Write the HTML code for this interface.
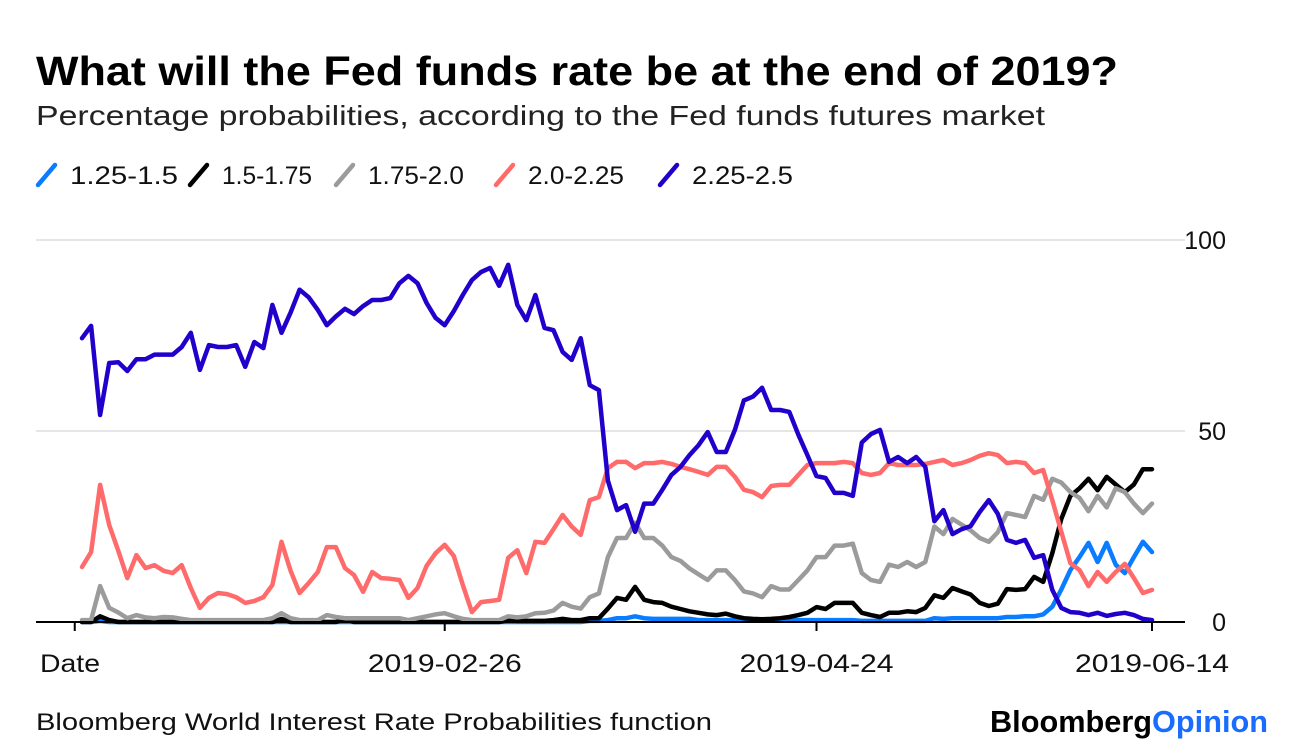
<!DOCTYPE html>
<html><head><meta charset="utf-8">
<style>
body{margin:0;background:#fff;width:1296px;height:754px;overflow:hidden;font-family:"Liberation Sans",sans-serif;}
svg{position:absolute;left:0;top:0}
</style></head>
<body>
<svg id="chart" width="1296" height="754" xmlns="http://www.w3.org/2000/svg">
<text x="36" y="85" font-size="41" font-weight="bold" fill="#000" textLength="1082" lengthAdjust="spacingAndGlyphs">What will the Fed funds rate be at the end of 2019?</text>
<text x="36" y="125" font-size="28" fill="#222" textLength="1009" lengthAdjust="spacingAndGlyphs">Percentage probabilities, according to the Fed funds futures market</text>
<g id="legend"></g>
<g id="grid"></g>
<g id="series"></g>
<g id="xaxis"></g>
<text x="36" y="730" font-size="24" fill="#111" textLength="676" lengthAdjust="spacingAndGlyphs">Bloomberg World Interest Rate Probabilities function</text>
<text x="990" y="732" font-size="31" font-weight="bold" textLength="278" lengthAdjust="spacingAndGlyphs"><tspan fill="#000">Bloomberg</tspan><tspan fill="#1a6cff">Opinion</tspan></text>
</svg>
<script>
const seriesNames = ["1.25-1.5","1.5-1.75","1.75-2.0","2.0-2.25","2.25-2.5"];
const seriesColors = ["#0a7cff","#000000","#9b9b9b","#ff6b6b","#2200cc"];
const yTicks = [0,50,100];
const xTickLabels = ["Date","2019-02-26","2019-04-24","2019-06-14"];
const xTickIndex = [-0.8,40,81,118];
const s1 = [0,0,0.3,0,0,0,0,0,0,0,0,0,0,0,0,0,0,0,0,0,0,0,0,0,0,0,0,0,0,0,0,0,0,0,0,0,0,0,0,0,0,0,0,0,0,0,0,0,0,0,0,0,0,0,0,0,0.3,0.3,0.5,1,1,1.5,1,0.8,0.8,0.8,0.8,0.8,0.5,0.5,0.5,0.5,0.5,0.5,0.5,0.5,0.5,0.5,0.5,0.5,0.5,0.5,0.5,0.5,0.5,0.5,0.3,0.3,0.3,0.3,0.3,0.3,0.3,0.3,1,0.8,1,1,1,1,1,1,1.3,1.3,1.5,1.5,2,4,8.5,13.6,17,20.7,15.7,20.7,15,12.8,17,21,18.3];
const s2 = [0,0,1.5,0.5,0,0,0,0,0,0,0,0,0,0,0,0,0,0,0,0,0,0,0.8,0,0,0,0,0,0,0.8,0,0,0,0,0,0,0,0,0,0,0,0,0,0,0,0,0,0.5,0.3,0.3,0.3,0.3,0.5,0.8,0.5,0.5,1,1,3.5,6.3,5.8,9.2,5.8,5.2,5,4,3.4,2.8,2.4,2,1.8,2.2,1.5,1,0.8,0.7,0.8,1,1.3,1.8,2.4,3.9,3.4,5,5,5,2.4,1.8,1.3,2.4,2.4,2.8,2.6,3.7,7,6.3,8.9,8,7.2,5,4.2,4.8,8.6,8.4,8.6,11.8,10.5,18,27,33,35,37.5,34.5,38,36,34,36,40,40];
const s3 = [0.5,0.5,9.4,3.7,2.5,1,1.8,1.2,1,1.3,1.2,0.8,0.5,0.5,0.5,0.5,0.5,0.5,0.5,0.5,0.5,1,2.3,1,0.5,0.5,0.5,1.8,1.3,1,1,1,1,1,1,1,0.5,1,1.5,2,2.3,1.5,0.8,0.5,0.5,0.5,0.5,1.5,1.2,1.5,2.3,2.4,3,5,4,3.5,6.5,7.5,17,22,22,26,22,22,20,17,16,14,12.5,11,13.5,13.5,11,8,7.5,6.5,9.4,8.5,8.5,11,13.5,17,17,20,20,20.5,12.8,11,10.5,15,14.4,15.7,14.4,15.7,25,23,27,25.5,24,22,21,23.5,28.5,28,27.5,33,32,37.5,36.5,34,32.5,29,33,30,35,34,31,28.5,31];
const s4 = [14.4,18.3,35.9,25.4,18.6,11.5,17.5,14.1,14.9,13.4,12.8,14.9,8.9,3.7,6.3,7.6,7.3,6.5,5,5.5,6.5,9.7,21,13.4,7.6,10.2,13.1,19.6,19.6,14.1,12.3,7.9,13.1,11.5,11.3,11,6.3,8.9,14.7,18,20.2,17.3,9.7,2.6,5.2,5.5,5.8,16.8,18.8,12.8,21,20.7,24.3,28,25,22.8,31.9,32.7,40.3,41.9,41.9,40.3,41.6,41.6,41.9,41.4,40.6,40,39.3,38.5,40.6,40.6,38,34.6,34,32.7,35.6,35.9,35.9,38.5,41.1,41.6,41.6,41.6,41.9,41.6,39,38.5,39,41.6,41.1,41.1,41.1,41.4,41.9,42.4,41.1,41.6,42.4,43.5,44.2,43.7,41.6,41.9,41.6,39,39.8,31.9,23.6,15.4,13.6,9.4,13.1,10.5,13.1,15.2,11.5,7.6,8.4];
const s5 = [74.3,77.5,54.2,67.8,68,65.7,68.8,68.8,70,70,70,72,75.7,66,72.5,72,72,72.5,66.8,73.3,71.7,83,75.7,81,87,85,81.7,77.7,80,82,80.6,82.7,84.3,84.3,84.8,88.7,90.6,88.7,83.5,79.6,77.7,81.4,85.6,89.5,91.6,92.7,88,93.5,83,79,85.6,77,76.4,70.7,68.6,74.3,62,60.7,37,29.3,30.6,23.6,31,31,34.6,38.5,40.6,43.7,46.3,49.7,44.5,44.5,50.3,58,59,61.3,55.5,55.5,55,49,43.7,38.2,37.7,33.8,33.8,33,47,49.2,50.3,41.9,43.2,41.6,43.2,40.6,26.4,29.3,23,24.3,25.1,28.8,31.9,28.3,21.5,20.7,21.5,16.8,17.5,8.4,3.7,2.6,2.4,1.8,2.4,1.6,2.1,2.4,1.8,0.8,0.5];
const allSeries = [s1,s2,s3,s4,s5];

const NS = "http://www.w3.org/2000/svg";
const X0 = 82, X1 = 1152, Y0 = 622, Y100 = 240;
function xs(i){ return X0 + i*(X1-X0)/(s5.length-1); }
function ys(v){ return Y0 - v*(Y0-Y100)/100; }
function mk(tag, attrs, parent){ const e=document.createElementNS(NS,tag); for(const k in attrs) e.setAttribute(k,attrs[k]); parent.appendChild(e); return e; }

const grid = document.getElementById('grid');
yTicks.forEach(t=>{
  if(t>0){
    const l = mk('line',{x1:36,x2:1185,y1:ys(t),y2:ys(t),stroke:'#e6e6e6','stroke-width':2},grid);
    
    
  }
  const tx = mk('text',{x:1226,y:ys(t)+9,'font-size':25,'text-anchor':'end',fill:'#111'},grid);
  tx.textContent = t;
  
  
});

const ser = document.getElementById('series');
allSeries.forEach((arr,k)=>{
  const d = arr.map((v,i)=>(i?'L':'M')+xs(i).toFixed(1)+' '+ys(v).toFixed(1)).join(' ');
  const p = mk('path',{d:d,fill:'none',stroke:seriesColors[k],'stroke-width':4.5,'stroke-linejoin':'round','stroke-linecap':'round'},ser);
  
  
});

const xa = document.getElementById('xaxis');
const base = mk('line',{x1:36,x2:1185,y1:Y0,y2:Y0,stroke:'#000','stroke-width':2},xa);


xTickLabels.forEach((lab,k)=>{
  const x = xs(xTickIndex[k]);
  const tk = mk('line',{x1:x,x2:x,y1:Y0,y2:Y0+9,stroke:'#000','stroke-width':2},xa);
  
  
  const w = k===0 ? 60 : 154;
  const t = mk('text',{x:k===0?40:x-w/2,y:672,'font-size':25,fill:'#111',textLength:w,lengthAdjust:'spacingAndGlyphs'},xa);
  t.textContent = lab;
  
  
});

const lg = document.getElementById('legend');
const legendX = [38,190,336,496,660];
const legendW = [108,90,96,96,101];
seriesNames.forEach((n,k)=>{
  const g = mk('g',{},lg);
  
  
  const x = legendX[k];
  mk('line',{x1:x,y1:185,x2:x+17,y2:165,stroke:seriesColors[k],'stroke-width':4.5,'stroke-linecap':'round'},g);
  const t = mk('text',{x:x+32,y:184,'font-size':25,fill:'#111',textLength:legendW[k],lengthAdjust:'spacingAndGlyphs'},g);
  t.textContent = n;
});
</script>
</body></html>
